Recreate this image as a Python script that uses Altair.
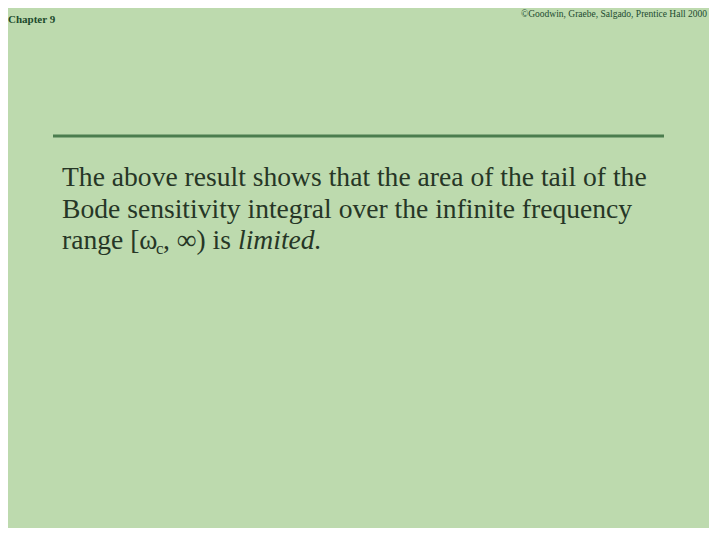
import altair as alt
import pandas as pd

# ---- slide texts ----
header_left = ["Chapter 9"]
header_right = ["\u00a9Goodwin, Graebe, Salgado, Prentice Hall 2000"]
body_lines = [
    "The above result shows that the area of the tail of the",
    "Bode sensitivity integral over the infinite frequency",
]
line3_parts = ["range [\u03c9", "c", ", \u221e) is", "limited."]

W, H = 701, 520
BG = "#bddaae"
TXT = "#263626"
SERIF = "Liberation Serif, Times New Roman, DejaVu Serif, serif"


def txt(s, x, y, size, color=TXT, font=SERIF, weight="normal", style="normal"):
    return alt.Chart(pd.DataFrame({"t": [s]})).mark_text(
        align="left", baseline="alphabetic", fontSize=size, font=font,
        fontWeight=weight, fontStyle=style, color=color
    ).encode(text="t:N", x=alt.value(x), y=alt.value(y))


rule = alt.Chart(pd.DataFrame({"t": ["rule"]})).mark_rule(
    color="#4b7d4e", strokeWidth=3
).encode(x=alt.value(44), x2=alt.value(655), y=alt.value(127))

layers = [rule]
layers.append(txt(header_left[0], -1, 14, 11, color="#1c4a2c", weight="bold"))
layers.append(txt(header_right[0], 512, 7.5, 9.5, color="#1c4a30"))

base_y = [177, 209]
for s, y in zip(body_lines, base_y):
    layers.append(txt(s, 53, y, 27.6))

y3 = 240
layers.append(txt(line3_parts[0], 53, y3, 27.6))
layers.append(txt(line3_parts[1], 147, y3 + 5, 17))
layers.append(txt(line3_parts[2], 154, y3, 27.6))
layers.append(txt(line3_parts[3], 229, y3, 27.6, style="italic"))

chart = alt.layer(*layers).properties(
    width=W, height=H,
    autosize=alt.AutoSizeParams(type="fit", contains="padding"),
    padding=0,
    background=BG,
).configure_view(stroke=None, fill=BG)

chart.save("out.html", embed_options={"renderer": "svg", "actions": False})
